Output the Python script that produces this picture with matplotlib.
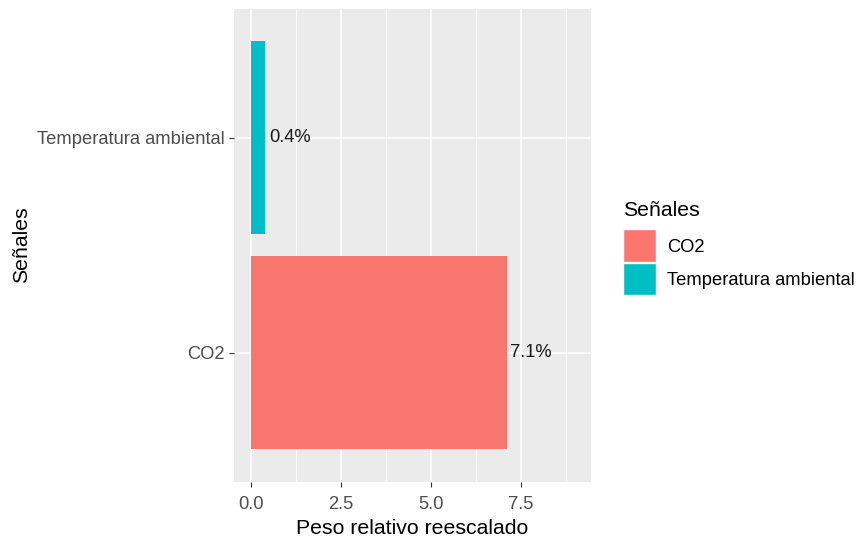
import matplotlib
matplotlib.use("Agg")
import matplotlib.pyplot as plt
from matplotlib.patches import Rectangle
from matplotlib.ticker import MultipleLocator

plt.rcParams["font.family"] = ["Liberation Sans", "DejaVu Sans"]

# Data
senales = ["CO2", "Temperatura ambiental"]
peso = [7.1, 0.4]
colores = ["#F8766D", "#00BFC4"]
xticks = [0.0, 2.5, 5.0, 7.5]
xticklabels = ["0.0", "2.5", "5.0", "7.5"]

W, H = 858, 538
fig = plt.figure(figsize=(W / 100, H / 100), dpi=100)
left, right, top, bottom = 234, 591, 8.5, 481.5
ax = fig.add_axes([left / W, 1 - bottom / H, (right - left) / W, (bottom - top) / H])

ax.set_facecolor("#EBEBEB")
for s in ax.spines.values():
    s.set_visible(False)

ypos = list(range(len(senales)))
ax.barh(ypos, peso, height=0.9, color=colores, zorder=3)
for y, v in zip(ypos, peso):
    ax.annotate(f"{v:.1f}%", (v, y), xytext=(2.5, 0), textcoords="offset points",
                ha="left", va="center", fontsize=13.2, color="#1A1A1A", zorder=4)

ax.set_xlim(-0.47, 9.44)
ax.set_ylim(-0.6, 1.6)
ax.set_xticks(xticks)
ax.set_xticklabels(xticklabels)
ax.xaxis.set_minor_locator(MultipleLocator(1.25))
ax.set_yticks(ypos)
ax.set_yticklabels(senales)

ax.grid(which="major", color="white", linewidth=1.1, zorder=0)
ax.grid(which="minor", axis="x", color="white", linewidth=0.55, zorder=0)
ax.set_axisbelow(True)

ax.tick_params(axis="both", which="major", length=3.5, width=0.8, color="#333333",
               labelcolor="#4D4D4D", labelsize=13.2, pad=3)
ax.tick_params(axis="x", which="major", pad=7)
ax.tick_params(axis="both", which="minor", length=0)

ax.set_xlabel("Peso relativo reescalado", fontsize=15.3, color="black", labelpad=4)
ax.set_ylabel("Señales", fontsize=15.3, color="black", labelpad=4.5)


# Legend drawn in pixel coordinates of the figure
def px(x, y):
    return x / W, 1 - y / H


fig.text(*px(623, 210), "Señales", fontsize=15.3, color="black",
         ha="left", va="center")
key_top = 229.5
key_size = 32.5
for i, (lab, col) in enumerate(zip(senales, colores)):
    y0 = key_top + i * (key_size + 0.5)
    x0, y0f = px(623, y0 + key_size)
    fig.add_artist(Rectangle((x0, y0f), key_size / W, key_size / H,
                             transform=fig.transFigure, facecolor=col,
                             edgecolor="white", linewidth=1))
    fig.text(*px(667, y0 + key_size / 2 + 1.5), lab, fontsize=13.2,
             color="black", ha="left", va="center")

fig.savefig("out.png", dpi=100)
